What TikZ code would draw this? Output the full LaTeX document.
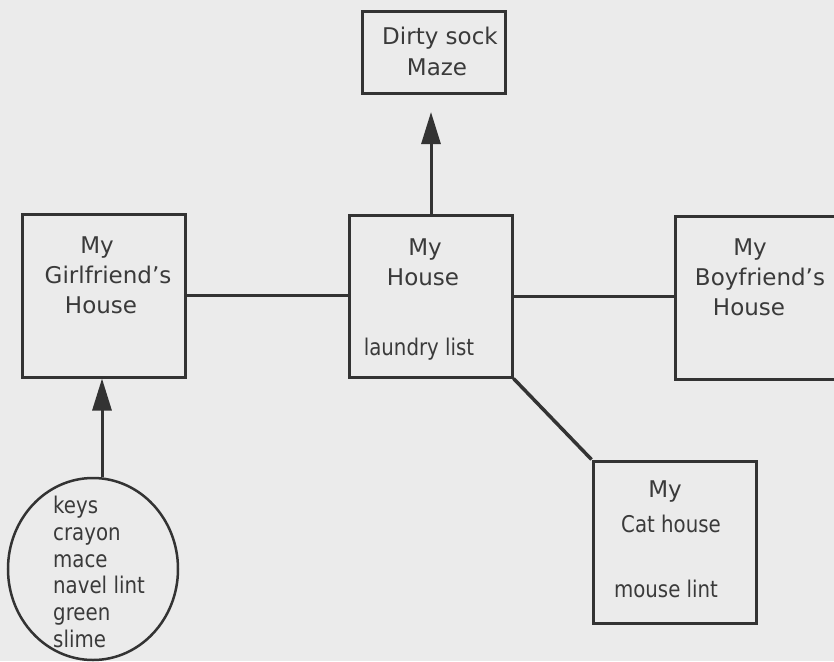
\documentclass[tikz,border=0pt]{standalone}
\usepackage{fontspec}
\setmainfont{DejaVu Sans}
\usetikzlibrary{arrows.meta,shapes.geometric}
\definecolor{bg}{HTML}{EBEBEB}
\definecolor{ink}{HTML}{333333}
\definecolor{txt}{HTML}{3A3A3A}
\newcommand\nrw[1]{\scalebox{0.86}[1]{#1}}
\tikzset{
  box/.style={draw=ink, line width=3pt, inner sep=0pt},
  lbl/.style={anchor=base, text=txt, font=\fontsize{23}{30}\selectfont, inner sep=0pt},
  wire/.style={draw=ink, line width=3pt},
  tip/.style={-{Triangle[length=32pt,width=19pt]}}
}
\begin{document}
\begin{tikzpicture}[x=1pt,y=-1pt]
\fill[bg] (0,0) rectangle (834,661);
\useasboundingbox (0,0) rectangle (834,661);
\clip (0,0) rectangle (834,661);

% boxes
\node[box, minimum width=143pt, minimum height=81pt] (sock) at (433.5,52.5) {};
\node[box, minimum width=163pt, minimum height=163pt] (girl) at (103.5,295.5) {};
\node[box, minimum width=163pt, minimum height=162pt] (house) at (430.5,296) {};
\node[box, minimum width=175pt, minimum height=163pt] (boy) at (762.5,297.5) {};
\node[box, minimum width=163pt, minimum height=162pt] (cat) at (674.5,542) {};
\node[draw=ink, line width=2.5pt, ellipse, minimum width=170pt, minimum height=182pt, inner sep=0pt] (bag) at (93,569) {};

% texts
\node[lbl] (t1) at (440,45) {Dirty sock};
\node[lbl] (t2) at (437,75) {Maze};
\node[lbl] (t3) at (97,253) {My};
\node[lbl] (t4) at (108,283) {Girlfriend's};
\node[lbl] (t5) at (101,313) {House};
\node[lbl] (t6) at (425,255) {My};
\node[lbl] (t7) at (423,285) {House};
\node[lbl] (t8) at (419,355) {\nrw{laundry list}};
\node[lbl] (t9) at (750,255) {My};
\node[lbl] (t10) at (760,285) {Boyfriend's};
\node[lbl] (t11) at (749,315) {House};
\node[lbl] (t12) at (665,497) {My};
\node[lbl] (t13) at (671,532) {\nrw{Cat house}};
\node[lbl] (t14) at (666,597) {\nrw{mouse lint}};
\node[lbl, anchor=base west] (k1) at (53,513) {\nrw{keys}};
\node[lbl, anchor=base west] (k2) at (53,540) {\nrw{crayon}};
\node[lbl, anchor=base west] (k3) at (53,567) {\nrw{mace}};
\node[lbl, anchor=base west] (k4) at (53,593) {\nrw{navel lint}};
\node[lbl, anchor=base west] (k5) at (53,620) {\nrw{green}};
\node[lbl, anchor=base west] (k6) at (53,647) {\nrw{slime}};

% connectors
\coordinate (socktip) at (431,112);
\draw[wire] (girl.east) -- (girl.east -| house.west);
\draw[wire] (house.east) -- (house.east -| boy.west);
\draw[wire, line width=3.5pt] (house.south east) -- (cat.north west);
\draw[wire, tip] (house.north -| socktip) -- (socktip);
\draw[wire, tip] (bag.north -| 102,0) -- (girl.south -| 102,0);
\end{tikzpicture}
\end{document}
